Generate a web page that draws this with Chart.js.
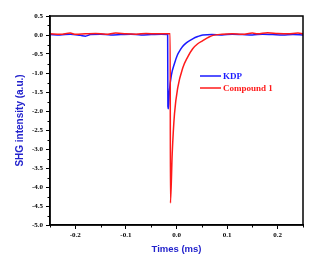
<!DOCTYPE html>
<html>
<head>
<meta charset="utf-8">
<script src="https://cdn.jsdelivr.net/npm/chart.js@4"></script>
<style>
  html, body { margin: 0; padding: 0; background: #fff; }
  #wrap { width: 329px; height: 267px; }
</style>
</head>
<body>
<div id="wrap"><canvas id="chart" width="329" height="267"></canvas></div>
<script>
// KDP trace (time in ms, SHG intensity in a.u.)
const kdpTime = [-0.25, -0.23, -0.21, -0.19, -0.18, -0.17, -0.15, -0.13, -0.11, -0.09, -0.07, -0.05, -0.03,
  -0.0175, -0.017, -0.016, -0.014, -0.01, -0.004, 0.002, 0.008, 0.012, 0.02, 0.032, 0.042, 0.052,
  0.07, 0.09, 0.11, 0.13, 0.15, 0.17, 0.19, 0.21, 0.23, 0.25];
const kdpSignal = [0.01, 0.0, 0.02, -0.01, -0.03, 0.01, 0.02, 0.0, 0.01, 0.02, 0.0, 0.01, 0.02,
  0.01, -1.88, -1.94, -1.47, -1.05, -0.75, -0.52, -0.38, -0.3, -0.2, -0.1, -0.04, 0.0,
  0.01, 0.0, 0.02, 0.01, 0.0, 0.02, 0.01, 0.0, 0.01, 0.0];

// Compound 1 trace
const cmpTime = [-0.25, -0.23, -0.21, -0.2, -0.18, -0.16, -0.14, -0.12, -0.1, -0.08, -0.06, -0.04, -0.02,
  -0.0125, -0.012, -0.0085, -0.004, 0.0026, 0.0125, 0.022, 0.032, 0.042, 0.052, 0.062, 0.072,
  0.09, 0.11, 0.13, 0.15, 0.16, 0.18, 0.2, 0.22, 0.24, 0.25];
const cmpSignal = [0.03, 0.02, 0.05, 0.02, 0.03, 0.04, 0.02, 0.05, 0.03, 0.02, 0.04, 0.03, 0.03,
  0.03, -4.42, -3.13, -2.08, -1.38, -0.86, -0.58, -0.36, -0.23, -0.15, -0.07, -0.01,
  0.02, 0.03, 0.02, 0.05, 0.03, 0.06, 0.04, 0.03, 0.05, 0.03];

const seriesNames = ['KDP', 'Compound 1'];
const xTicks = [-0.2, -0.1, 0.0, 0.1, 0.2];
const xMinor = [-0.25, -0.15, -0.05, 0.05, 0.15, 0.25];
const yTicks = [0.5, 0.0, -0.5, -1.0, -1.5, -2.0, -2.5, -3.0, -3.5, -4.0, -4.5, -5.0];
const yMinor = [0.25, -0.25, -0.75, -1.25, -1.75, -2.25, -2.75, -3.25, -3.75, -4.25, -4.75];

const toPoints = (xs, ys) => xs.map((x, i) => ({ x, y: ys[i] }));

const tickFont = { family: "'Liberation Serif', 'Times New Roman', serif", size: 7, weight: 'bold' };
const titleColor = '#2323cc';

// frame, minor ticks and legend inside the plot
const extras = {
  id: 'extras',
  afterDraw(chart) {
    const { ctx, chartArea: a, scales: { x, y } } = chart;
    ctx.save();
    ctx.strokeStyle = '#000';
    ctx.lineWidth = 1.5;
    ctx.strokeRect(a.left, a.top, a.right - a.left, a.bottom - a.top);
    ctx.lineWidth = 1;
    ctx.beginPath();
    xMinor.forEach(v => {
      const px = Math.round(x.getPixelForValue(v)) + 0.5;
      ctx.moveTo(px, a.bottom);
      ctx.lineTo(px, a.bottom + 2.5);
    });
    yMinor.forEach(v => {
      const py = Math.round(y.getPixelForValue(v)) + 0.5;
      ctx.moveTo(a.left, py);
      ctx.lineTo(a.left - 2.5, py);
    });
    ctx.stroke();

    // legend
    ctx.font = "bold 9px 'Liberation Serif', 'Times New Roman', serif";
    ctx.textBaseline = 'middle';
    chart.data.datasets.forEach((ds, i) => {
      const ly = 76 + i * 12;
      ctx.strokeStyle = ds.borderColor;
      ctx.lineWidth = 1.5;
      ctx.beginPath();
      ctx.moveTo(200, ly);
      ctx.lineTo(221, ly);
      ctx.stroke();
      ctx.fillStyle = ds.borderColor;
      ctx.fillText(ds.label, 223, ly + 0.5);
    });
    ctx.restore();
  }
};

new Chart(document.getElementById('chart'), {
  type: 'line',
  data: {
    datasets: [
      { label: seriesNames[0], data: toPoints(kdpTime, kdpSignal), borderColor: '#1a1aff', borderWidth: 1.5, pointRadius: 0, cubicInterpolationMode: 'monotone', order: 1 },
      { label: seriesNames[1], data: toPoints(cmpTime, cmpSignal), borderColor: '#ff1a1a', borderWidth: 1.5, pointRadius: 0, cubicInterpolationMode: 'monotone', order: 0 }
    ]
  },
  options: {
    responsive: false,
    animation: false,
    layout: { padding: { left: 10, right: 26, top: 16, bottom: 9 } },
    plugins: { legend: { display: false }, tooltip: { enabled: false } },
    scales: {
      x: {
        type: 'linear',
        min: -0.25,
        max: 0.25,
        afterBuildTicks: s => { s.ticks = xTicks.map(v => ({ value: v })); },
        afterFit: s => { s.height = 267 - 225 - 9; },
        grid: { drawOnChartArea: false, drawTicks: true, tickLength: 4, tickColor: '#000', tickWidth: 1 },
        border: { display: true, color: '#000', width: 1.5 },
        ticks: { color: '#000', font: tickFont, padding: 2, maxRotation: 0, callback: v => v.toFixed(1) },
        title: { display: true, text: 'Times (ms)', color: titleColor, padding: { top: 0, bottom: 3 },
          font: { family: "'Liberation Sans', Arial, sans-serif", size: 9.5, weight: 'bold' } }
      },
      y: {
        type: 'linear',
        min: -5,
        max: 0.5,
        afterBuildTicks: s => { s.ticks = yTicks.map(v => ({ value: v })); },
        afterFit: s => { s.width = 50 - 10; },
        grid: { drawOnChartArea: false, drawTicks: true, tickLength: 4, tickColor: '#000', tickWidth: 1 },
        border: { display: true, color: '#000', width: 1.5 },
        ticks: { color: '#000', font: tickFont, padding: 3, callback: v => v.toFixed(1) },
        title: { display: true, text: 'SHG intensity (a.u.)', color: titleColor, padding: { top: 4, bottom: 0 },
          font: { family: "'Liberation Sans', Arial, sans-serif", size: 10, weight: 'bold' } }
      }
    }
  },
  plugins: [extras]
});
</script>
</body>
</html>
